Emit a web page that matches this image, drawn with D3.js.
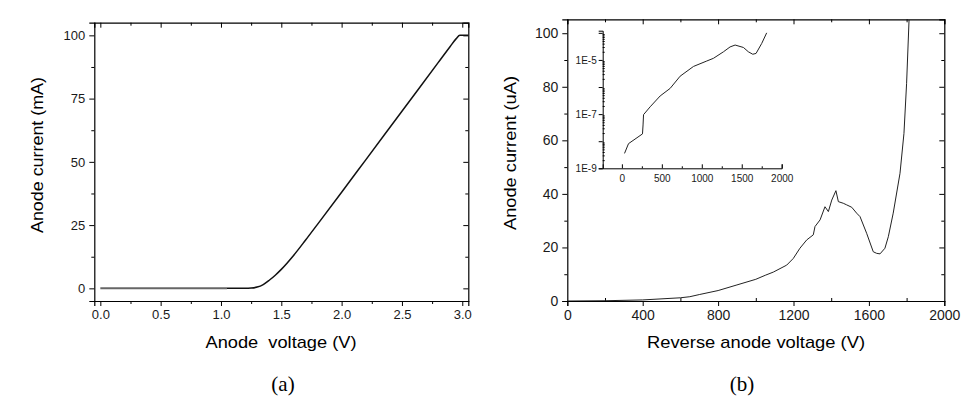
<!doctype html>
<html>
<head>
<meta charset="utf-8">
<title>Anode I-V</title>
<style>
body { margin: 0; background: #fff; }
svg { display: block; font-family: "Liberation Sans", Arial, sans-serif; }
.domain { stroke: #000; }
.tick line { stroke: #000; }
.tick text { fill: #1a1a1a; }
</style>
</head>
<body>
<svg id="chart" width="977" height="404"></svg>
<script src="https://cdnjs.cloudflare.com/ajax/libs/d3/7.8.5/d3.min.js"></script>
<script>
// (a) forward characteristic: voltage (V), current (mA)
var fwdVolt = [0, 0.5, 1.05, 1.2, 1.25, 1.3, 1.35, 1.4, 1.45, 1.5, 1.6, 1.7, 1.8, 2.0, 2.2, 2.5, 2.8, 2.9, 2.95, 2.98, 3.0, 3.05];
var fwdCurr = [0, 0, 0, 0, 0.1, 0.5, 1.5, 3.2, 5.2, 7.5, 12.9, 19.0, 25.3, 38.0, 50.8, 70.0, 89.2, 95.6, 98.7, 100, 100, 100];

// (b) reverse characteristic: voltage (V), current (uA)
var revVolt = [0, 200, 400, 600, 650, 700, 800, 900, 1000, 1050, 1093, 1164, 1199, 1234, 1270, 1305, 1314, 1341, 1367, 1385, 1403, 1425, 1438, 1464, 1482, 1509, 1535, 1553, 1588, 1623, 1641, 1659, 1685, 1703, 1729, 1765, 1786, 1800, 1813];
var revCurr = [0, 0.1, 0.4, 1.2, 1.6, 2.4, 3.9, 6.0, 8.1, 9.6, 10.8, 13.4, 15.9, 19.7, 22.8, 24.7, 27.8, 30.3, 35.2, 33.4, 37.7, 41.2, 37.1, 36.5, 35.9, 35.0, 32.8, 31.5, 25.3, 18.4, 17.8, 17.6, 19.7, 24.0, 32.8, 47.7, 62.6, 81.3, 105];

// inset: reverse current on log scale (A)
var insVolt = [33, 83, 258, 265, 271, 354, 479, 604, 729, 896, 1062, 1146, 1271, 1354, 1417, 1521, 1583, 1638, 1679, 1750, 1812];
var insLogI = [-8.45, -8.09, -7.73, -7.4, -7.02, -6.73, -6.33, -6.05, -5.6, -5.24, -5.04, -4.94, -4.70, -4.52, -4.45, -4.54, -4.70, -4.79, -4.76, -4.39, -4.0];

var aMajorX = [0, 0.5, 1.0, 1.5, 2.0, 2.5, 3.0];
var aMinorX = [0.25, 0.75, 1.25, 1.75, 2.25, 2.75];
var aMajorY = [0, 25, 50, 75, 100];
var aMinorY = [12.5, 37.5, 62.5, 87.5];
var bMajorX = [0, 400, 800, 1200, 1600, 2000];
var bMinorX = [200, 600, 1000, 1400, 1800];
var bMajorY = [0, 20, 40, 60, 80, 100];
var bMinorY = [10, 30, 50, 70, 90];
var insMajorX = [0, 500, 1000, 1500, 2000];
var insMinorX = [250, 750, 1250, 1750];
var insLabelY = [1e-9, 1e-7, 1e-5];
var insMajorY = [1e-9, 1e-8, 1e-7, 1e-6, 1e-5, 1e-4];

var svg = d3.select("#chart");

function frame(g, x, y, opt) {
  var w = x.range()[1] - x.range()[0], h = y.range()[0] - y.range()[1];
  var x0 = x.range()[0], y0 = y.range()[1];
  function ax(axis, tx, ty, fs) {
    var s = g.append("g").attr("transform", "translate(" + tx + "," + ty + ")").call(axis);
    s.selectAll("text").style("font-size", fs + "px");
    return s;
  }
  // bottom: labelled, outward
  ax(d3.axisBottom(x).tickValues(opt.mx).tickSize(5).tickPadding(4).tickFormat(opt.fx), 0, y0 + h, opt.fs);
  ax(d3.axisBottom(x).tickValues(opt.nx).tickSize(opt.bminor).tickFormat(""), 0, y0 + h, opt.fs).select(".domain").remove();
  // left: labelled, outward
  ax(d3.axisLeft(y).tickValues(opt.my).tickSize(5).tickPadding(4).tickFormat(opt.fy), x0, 0, opt.fs);
  ax(d3.axisLeft(y).tickValues(opt.ny).tickSize(3).tickFormat(""), x0, 0, opt.fs).select(".domain").remove();
  // top and right: inward, no labels
  ax(d3.axisTop(x).tickValues(opt.mx).tickSize(-5).tickFormat(""), 0, y0, opt.fs);
  ax(d3.axisTop(x).tickValues(opt.nx).tickSize(-3).tickFormat(""), 0, y0, opt.fs).select(".domain").remove();
  ax(d3.axisRight(y).tickValues(opt.my).tickSize(-5).tickFormat(""), x0 + w, 0, opt.fs);
  ax(d3.axisRight(y).tickValues(opt.ny).tickSize(-3).tickFormat(""), x0 + w, 0, opt.fs).select(".domain").remove();
  g.selectAll(".domain").attr("stroke-width", 1.2);
}

function title(g, x, y, rot, len, txt) {
  g.append("text")
    .attr("transform", "translate(" + x + "," + y + ")" + (rot ? " rotate(-90)" : ""))
    .attr("text-anchor", "middle")
    .attr("textLength", len).attr("lengthAdjust", "spacingAndGlyphs")
    .style("font-size", "17px").style("white-space", "pre").text(txt);
}

// ---- panel (a)
var xa = d3.scaleLinear().domain([-0.05, 3.05]).range([94.3, 468.3]);
var ya = d3.scaleLinear().domain([-5, 105]).range([301, 22.7]);
var ga = svg.append("g");
frame(ga, xa, ya, {mx: aMajorX, nx: aMinorX, my: aMajorY, ny: aMinorY, fs: 13, bminor: 3,
  fx: d3.format(".1f"), fy: d3.format("d")});

var lineA = d3.line().x(function(i) { return xa(fwdVolt[i]); }).y(function(i) { return ya(fwdCurr[i]); }).curve(d3.curveMonotoneX);
var idx = d3.range(fwdVolt.length);
ga.append("path")
  .datum(idx.filter(function(i) { return fwdVolt[i] >= 1.05; }))
  .attr("fill", "none").attr("stroke", "#111").attr("stroke-width", 1.5)
  .attr("d", lineA);
ga.append("path")
  .datum(idx.filter(function(i) { return fwdVolt[i] <= 1.05; }))
  .attr("fill", "none").attr("stroke", "#666").attr("stroke-width", 2)
  .attr("d", lineA);

title(ga, 281, 348, false, 151, "Anode  voltage (V)");
title(ga, 43, 155, true, 156, "Anode current (mA)");
ga.append("text").attr("x", 283).attr("y", 391).attr("text-anchor", "middle")
  .style("font-family", "'Liberation Serif', serif").style("font-size", "21px").text("(a)");

// ---- panel (b)
var xb = d3.scaleLinear().domain([0, 2000]).range([567.3, 944.3]);
var yb = d3.scaleLinear().domain([0, 105.2]).range([301, 19.3]);
var gb = svg.append("g");
frame(gb, xb, yb, {mx: bMajorX, nx: bMinorX, my: bMajorY, ny: bMinorY, fs: 14, bminor: -3,
  fx: d3.format("d"), fy: d3.format("d")});

gb.append("clipPath").attr("id", "clipb").append("rect")
  .attr("x", 567.3).attr("y", 19.3).attr("width", 377).attr("height", 281.7);
gb.append("path")
  .datum(d3.range(revVolt.length))
  .attr("clip-path", "url(#clipb)")
  .attr("fill", "none").attr("stroke", "#222").attr("stroke-width", 1)
  .attr("d", d3.line().x(function(i) { return xb(revVolt[i]); }).y(function(i) { return yb(revCurr[i]); }));

title(gb, 756, 348, false, 218, "Reverse anode voltage (V)");
title(gb, 516, 153, true, 154, "Anode current (uA)");
gb.append("text").attr("x", 742).attr("y", 391).attr("text-anchor", "middle")
  .style("font-family", "'Liberation Serif', serif").style("font-size", "21px").text("(b)");

// ---- inset
var xi = d3.scaleLinear().domain([-240, 2000]).range([602.7, 781.7]);
var yi = d3.scaleLog().domain([1e-9, 1.2e-4]).range([168.3, 30.7]);
var gi = svg.append("g");
var insMinorY = [];
insMajorY.forEach(function(d) { for (var k = 2; k < 10; k++) if (d * k <= 1.2e-4) insMinorY.push(d * k); });

var ib = gi.append("g").attr("transform", "translate(0,168.3)")
  .call(d3.axisBottom(xi).tickValues(insMajorX).tickSize(-4).tickPadding(3).tickFormat(d3.format("d")));
ib.selectAll("text").style("font-size", "10px").attr("dy", "1.1em");
gi.append("g").attr("transform", "translate(0,168.3)")
  .call(d3.axisBottom(xi).tickValues(insMinorX).tickSize(-2).tickFormat("")).select(".domain").remove();
var il = gi.append("g").attr("transform", "translate(602.7,0)")
  .call(d3.axisLeft(yi).tickValues(insMajorY).tickSize(4).tickPadding(2)
    .tickFormat(function(d) { return insLabelY.indexOf(d) >= 0 ? "1E" + Math.round(Math.log10(d)) : ""; }));
il.selectAll("text").style("font-size", "10px");
gi.append("g").attr("transform", "translate(602.7,0)")
  .call(d3.axisLeft(yi).tickValues(insMinorY).tickSize(-2).tickFormat("")).select(".domain").remove();

gi.append("path")
  .datum(d3.range(insVolt.length))
  .attr("fill", "none").attr("stroke", "#222").attr("stroke-width", 1)
  .attr("d", d3.line().x(function(i) { return xi(insVolt[i]); }).y(function(i) { return yi(Math.pow(10, insLogI[i])); }));
</script>
</body>
</html>
